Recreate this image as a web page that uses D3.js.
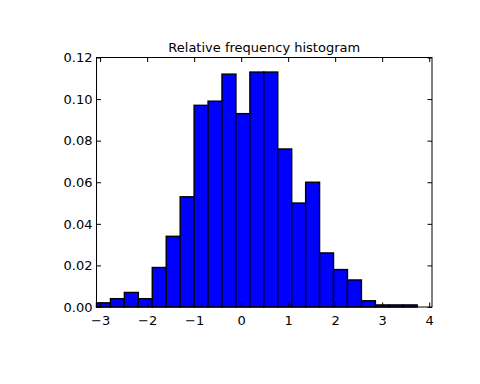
<!DOCTYPE html>
<html>
<head>
<meta charset="utf-8">
<script src="https://cdn.jsdelivr.net/npm/d3@7"></script>
<style>
  body { margin: 0; background: #fff; }
  svg text { font-family: "DejaVu Sans", sans-serif; fill: #000; }
</style>
</head>
<body>
<div id="chart"></div>
<script>
// relative frequency for each bin (23 bins)
const binStart = -3.077;
const binWidth = 0.2966;
const freqs = [0.002, 0.004, 0.007, 0.004, 0.019, 0.034, 0.053, 0.097, 0.099, 0.112,
  0.093, 0.113, 0.113, 0.076, 0.050, 0.060, 0.026, 0.018, 0.013, 0.003,
  0.001, 0.001, 0.001];
const xTicks = [-3, -2, -1, 0, 1, 2, 3, 4];
const yTicks = [0, 0.02, 0.04, 0.06, 0.08, 0.10, 0.12];

const width = 480, height = 384;
const margin = { left: 96.5, right: 48, top: 57.5, bottom: 77 };

const svg = d3.select('#chart').append('svg')
  .attr('width', width)
  .attr('height', height);

const x = d3.scaleLinear()
  .domain([binStart, 4.06])
  .range([margin.left, width - margin.right]);
const y = d3.scaleLinear()
  .domain([0, 0.12])
  .range([height - margin.bottom, margin.top]);

const bins = freqs.map(function(f, i) {
  return { x0: binStart + i * binWidth, x1: binStart + (i + 1) * binWidth, v: f };
});

// bars
svg.append('g')
  .selectAll('rect')
  .data(bins)
  .enter()
  .append('rect')
    .attr('x', d => x(d.x0))
    .attr('y', d => y(d.v))
    .attr('width', d => x(d.x1) - x(d.x0))
    .attr('height', d => y(0) - y(d.v))
    .attr('fill', '#0000ff')
    .attr('stroke', '#000')
    .attr('stroke-width', 1.4);

const fmtX = d => d < 0 ? '\u2212' + Math.abs(d) : String(d);
const fmtY = d3.format('.2f');

// axes, ticks pointing inward like matplotlib classic
const axBottom = svg.append('g')
  .attr('transform', 'translate(0,' + y(0) + ')')
  .call(d3.axisBottom(x).tickValues(xTicks).tickFormat(fmtX).tickSizeInner(-4.5).tickSizeOuter(0).tickPadding(9));
const axTop = svg.append('g')
  .attr('transform', 'translate(0,' + y(0.12) + ')')
  .call(d3.axisTop(x).tickValues(xTicks).tickFormat('').tickSizeInner(-4.5).tickSizeOuter(0));
const axLeft = svg.append('g')
  .attr('transform', 'translate(' + x.range()[0] + ',0)')
  .call(d3.axisLeft(y).tickValues(yTicks).tickFormat(fmtY).tickSizeInner(-4.5).tickSizeOuter(0).tickPadding(4));
const axRight = svg.append('g')
  .attr('transform', 'translate(' + x.range()[1] + ',0)')
  .call(d3.axisRight(y).tickValues(yTicks).tickFormat('').tickSizeInner(-4.5).tickSizeOuter(0));

[axBottom, axTop, axLeft, axRight].forEach(function(g) {
  g.select('.domain').remove();
  g.selectAll('line').attr('stroke', '#000');
  g.selectAll('text').style('font-size', '13px').style('font-family', '"DejaVu Sans", sans-serif');
});

// frame
svg.append('rect')
  .attr('x', x.range()[0])
  .attr('y', y(0.12))
  .attr('width', x.range()[1] - x.range()[0])
  .attr('height', y(0) - y(0.12))
  .attr('fill', 'none')
  .attr('stroke', '#000')
  .attr('stroke-width', 1);

svg.append('text')
  .attr('x', (x.range()[0] + x.range()[1]) / 2)
  .attr('y', 51.5)
  .attr('text-anchor', 'middle')
  .style('font-size', '13px')
  .text('Relative frequency histogram');
</script>
</body>
</html>
